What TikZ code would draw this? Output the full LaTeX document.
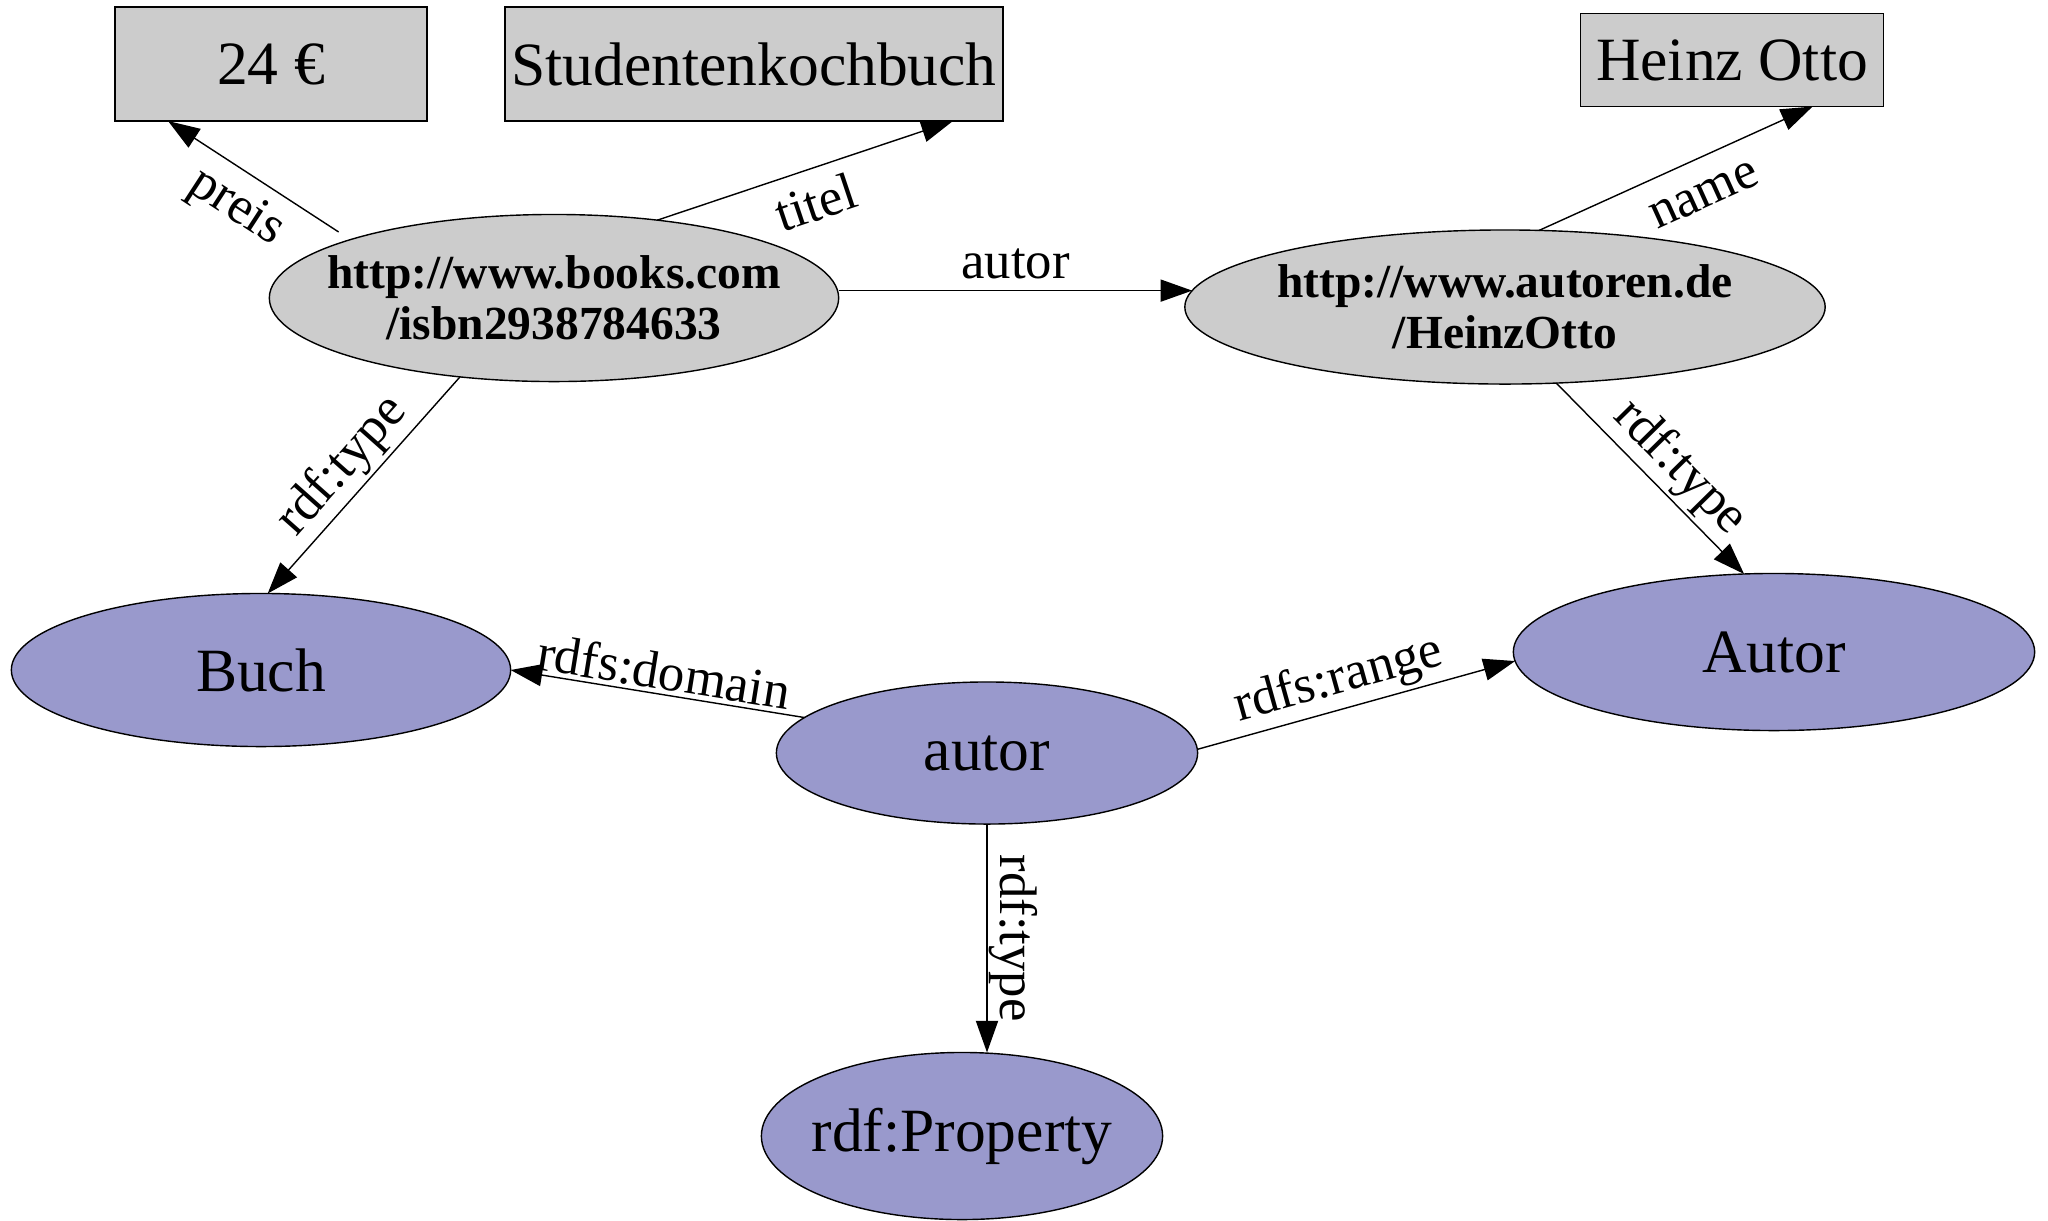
\documentclass[tikz,border=0pt]{standalone}
\usepackage{fontspec}
\setmainfont{Liberation Serif}
\usetikzlibrary{arrows.meta,shapes.geometric}

\definecolor{litgray}{RGB}{204,204,204}
\definecolor{clsblue}{RGB}{153,153,204}

\begin{document}
\begin{tikzpicture}[x=0.01cm, y=-0.01cm,
    every node/.style={font=\fontsize{17.5}{21}\selectfont},
    lit/.style={draw, fill=litgray, inner sep=0pt, outer sep=0pt},
    res/.style={ellipse, draw, fill=litgray, inner sep=0pt, inner xsep=-1cm, outer sep=0pt,
                align=center, font=\fontsize{13.5}{14.6}\selectfont\bfseries},
    cls/.style={ellipse, draw, fill=clsblue, inner sep=0pt, inner xsep=-1cm, outer sep=0pt},
    rel/.style={-{Triangle[length=9pt,width=6.3pt]}},
    lbl/.style={font=\fontsize{15}{18}\selectfont, sloped, inner sep=0.5pt}]
  \useasboundingbox (0,0) rectangle (2048,1220);

  % Literals
  \node[lit, minimum width=3.12cm, minimum height=1.14cm] (preis) at (271,64) {24 €};
  \node[lit, minimum width=4.98cm, minimum height=1.14cm] (titel) at (754,64) {Studentenkochbuch};
  \node[lit, minimum width=3.03cm, minimum height=0.93cm] (name) at (1732,60) {Heinz Otto};

  % Resources
  \node[res, minimum width=5.69cm, minimum height=1.67cm] (book) at (554,298)
    {http://www.books.com\\/isbn2938784633};
  \node[res, minimum width=6.40cm, minimum height=1.54cm] (author) at (1505,307)
    {http://www.autoren.de\\/HeinzOtto};

  % Schema
  \node[cls, minimum width=4.99cm, minimum height=1.53cm] (buch) at (261,670) {Buch};
  \node[cls, minimum width=5.21cm, minimum height=1.57cm] (autorcls) at (1774,652) {Autor};
  \node[cls, minimum width=4.21cm, minimum height=1.42cm] (autorprop) at (987,753) {autor};
  \node[cls, minimum width=4.01cm, minimum height=1.67cm] (property) at (962,1136) {rdf:Property};

  % Statements
  \draw[rel, shorten <=4pt] (book.164) -- node[lbl, below=3pt, pos=.52] {preis} (preis.209);
  \draw[rel] (book.37) -- node[lbl, below=3.5pt] {titel} (titel.344);
  \draw[rel] (book.east |- author.177) -- node[lbl, above=2.5pt] {autor} (author.177);
  \draw[rel] (author.66) -- node[lbl, below=6pt, pos=.55] {name} (name.330);
  \draw[rel] (book.220) -- node[lbl, above=0.5pt] {rdf:type} (buch.85);
  \draw[rel] (author.304) -- node[lbl, above=0.5pt, pos=.55] {rdf:type} (autorcls.111);
  \draw[rel] (autorprop.169) -- node[lbl, above=0.5pt, pos=.49] {rdfs:domain} (buch.east);
  \draw[rel] (autorprop.1) -- node[lbl, above=0.5pt, pos=.47] {rdfs:range} (autorcls.182);
  \draw[rel] (autorprop.south) -- node[lbl, above=0pt] {rdf:type} (autorprop.south |- property.north);
\end{tikzpicture}
\end{document}
